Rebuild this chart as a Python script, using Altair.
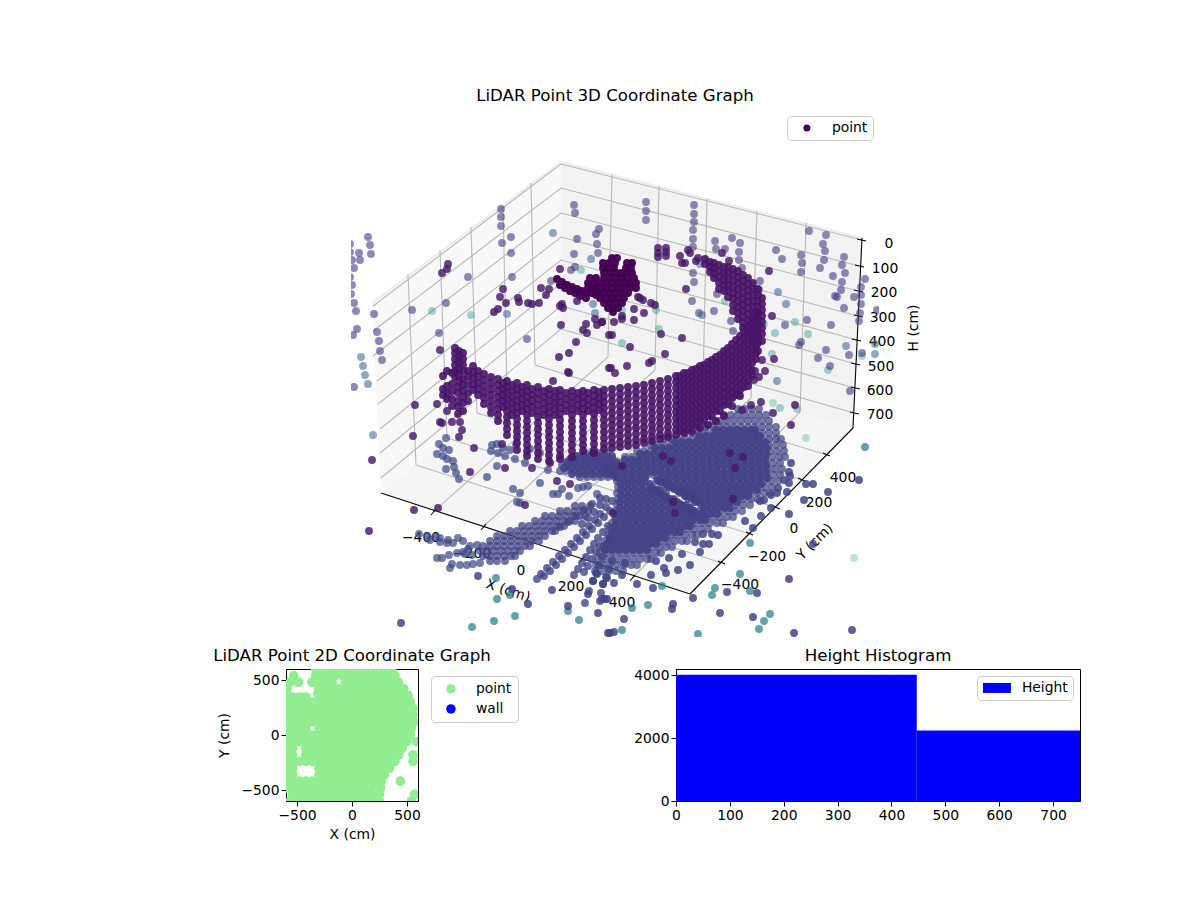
import altair as alt
import pandas as pd

FONT = "DejaVu Sans"

# ---------- projected 3D scatter (x, y in projected view units, c = colour value, a = alpha) ----------
back_purple = [(368,236),(370,244),(371,253),(350,243),(350,251),(359,252),(352,259),(360,259),(354,267),(350,276),(352,284),(351,293),(354,302),(356,310),(374,313),(357,328),(353,334),(377,331),(379,340),(380,350),(382,359),(354,386),
(501,208),(501,216),(501,225),(502,242),(511,236),(511,252),(468,276),(512,276),(412,309),(446,302),(439,332),(527,338),(574,204),(575,212),(599,228),(596,233),(577,238),(597,243),(598,252),(574,253),(575,266),(571,269),(551,280),
(646,201),(646,210),(646,219),(694,204),(694,213),(694,221),(693,229),(693,238),(693,246),(715,240),(716,248),(725,248),(732,237),(740,242),(739,251),(739,259),(742,267),(776,249),(782,258),(809,230),(826,234),(823,243),(825,250),(824,259),(801,254),(802,262),(801,271),(820,267),(844,256),(842,264),(845,272),(833,275),(842,281),(841,289),(865,278),(861,286),(854,296),(861,294),(861,303),(844,307),(837,296),(835,295),(860,312),(859,320),(877,309),(760,280),(759,289),(785,324),(807,319),(831,324),(801,341),(799,344),(826,349),(849,354),(818,357),(862,352),(830,365),(693,272),(694,281),(692,300),(699,312),(714,310),(717,293),(731,320),(733,330),(850,390),(739,394),(733,396),(748,385)]
dark_mid = [(448,263),(447,268),(442,272),(503,288),(500,296),(506,302),(518,297),(519,301),(498,308),(494,311),(440,349),(528,302),(532,303),(539,302),(541,287),(549,288),(546,294),(560,268),(577,300),(595,318),(602,321),(597,324),(586,323),(583,329),(587,332),(609,334),(576,341),(561,324),(562,303),(563,307),(560,305),(569,352),(559,356),(568,371),(569,372),(553,380),(609,367),
(722,252),(729,260),(769,270),(772,315),(774,358),(762,359),(755,370),(765,370),(759,376),(754,379),(686,288),(682,337),(665,353),(652,360),(649,362),(627,365),(611,367),(615,372),(630,346),(661,333),(612,334),(644,312),(634,308),(634,319),(622,315),(622,318),(614,321),(602,321),(638,296),(640,297),(643,299),(651,302),(655,304),
(658,247),(658,252),(658,256),(666,247),(666,251),(666,255),(680,255),(682,262),(688,249),(690,252),(696,260),(698,257),(685,262),
(415,404),(413,435),(372,459),(437,403),(447,410),(440,421),(442,422),(452,421),(460,421),(462,429),(459,436),(474,447),(470,471),(414,509),(438,507),(369,530),(525,504),(505,467),(557,480),(570,483),(532,467),(550,462),(502,443)]
bluish = [(553,232),(591,258),(507,313),(593,303),(595,312),(700,263),(702,314),(846,345),(875,343),(875,353),(777,380),(786,303),(778,291),(361,356),(363,365),(365,374),(368,383),(373,434)]
teal = [(432,310),(471,314),(581,269),(725,300),(795,321),(808,333),(775,332),(764,323),(828,369),(772,353),(659,328),(622,342),(656,309),(622,309),(780,407),(797,408),(862,355)]
pale = [(854,557),(806,437),(773,402)]
blue_floor = [(439,443),(443,447),(449,449),(437,453),(443,455),(447,458),(453,460),(446,468),(454,466),(456,472),(459,478),(487,476),(492,444),(491,450),(497,443),(503,447),(510,449),(516,444),(498,452),(505,455),(497,465),(513,488),(520,492),(517,501),(520,502),(540,482),(548,469),(553,493),(558,493),(562,488),(569,495),(578,487),(583,486),(588,485),(597,493),(446,437),(530,448),(540,452),(515,458),(525,462),(560,470),
(419,533),(427,535),(435,536),(440,537),(448,539),(458,537),(430,539),(440,541),(447,542),(453,542),(463,540),(470,545),(477,544),(468,548),(463,551),(437,557),(442,557),(449,554),(457,552),(465,553),(472,554),(450,567),(452,563),(460,564),(467,564),(473,563),(480,562)]
front_blue = [(401,622),(478,575),(552,589),(528,603),(597,573),(593,580),(588,593),(607,598),(598,612),(568,605),(512,588),(693,597),(727,591),(757,592),(720,612),(753,616),(789,578),(794,632),(852,629),(813,543),(859,479),(673,603),(672,608),(624,618),(610,632),(614,631),(608,632),
(791,462),(789,471),(790,475),(784,479),(789,482),(806,483),(813,483),(828,491),(804,499),(787,491),(778,487),(777,492),(771,494),(764,499),(760,500),(771,507),(789,513),(761,515),(753,527),(745,520),(712,533),(718,534),(703,533),(695,541),(703,543),(709,543),(700,551),(690,564),(682,553),(669,557),(678,569),(664,567),(666,572),(656,560),(651,574),(637,583),(653,587),(625,562),(622,574),(614,582),(607,577),(603,583),(602,598),(605,598)]
front_teal = [(865,446),(750,542),(712,594),(715,587),(740,573),(750,590),(770,613),(764,620),(759,628),(698,633),(662,585),(632,607),(648,604),(622,629),(568,610),(510,594),(497,598),(496,577),(515,615),(494,620),(472,626),(579,619)]
dark_over = [(748,385),(761,401),(751,404),(742,409),(773,412),(795,404),(791,424),(730,452),(743,456),(735,467),(733,498),(663,455),(671,460),(622,465),(673,501),(675,512),(613,512)]

fan_rows = [
(408,[738,745,752,759]),
(414,[724,731,738,745,752,759,766]),
(420,[713,720,727,734,741,748,755,762,769]),
(426,[699,706,713,720,727,734,741,748,755,762,769,776]),
(432,[685,692,699,706,713,720,727,734,741,748,755,762,769,776]),
(438,[664,671,678,685,692,699,706,713,720,727,734,741,748,755,762,769,776,781]),
(444,[650,657,664,671,678,685,692,699,706,713,720,727,734,741,748,755,762,769,776,783]),
(450,[637,644,651,658,665,672,679,686,693,700,707,714,721,728,735,742,749,756,763,770,777,784]),
(456,[625,632,639,646,653,660,667,674,681,688,695,702,709,716,723,730,737,744,751,758,765,772,779,785]),
(462,[612,619,626,633,640,647,654,661,668,675,682,689,696,703,710,717,724,731,738,745,752,759,766,773,780]),
(468,[607,614,621,628,635,642,649,656,663,670,677,684,691,698,705,712,719,726,733,740,747,754,761,768,775,782]),
(474,[612,619,626,633,640,647,654,661,668,675,682,689,696,703,710,717,724,731,738,745,752,759,766,773,780]),
(480,[617,624,631,638,645,659,666,673,680,687,694,701,708,715,722,729,736,743,750,757,764,771,778]),
(486,[618,625,632,639,646,653,667,674,681,688,695,702,709,716,723,730,737,744,751,758,765,772]),
(492,[617,624,631,638,645,652,659,666,680,687,694,701,708,715,722,729,736,743,750,757,764,770]),
(498,[618,625,632,639,646,653,660,667,674,688,695,702,709,716,723,730,737,744,751,758]),
(504,[617,624,631,638,645,652,659,666,673,680,687,701,708,715,722,729,736,743,750]),
(510,[616,623,630,637,644,651,658,665,672,679,686,693,700,707,714,721,728,735,742]),
(516,[615,622,629,636,643,650,657,664,671,678,685,692,699,706,713,720,727,733]),
(522,[612,619,626,633,640,647,654,661,668,675,682,689,696,703,710,717,723]),
(528,[610,617,624,631,638,645,652,659,666,673,680,687,694,701,708]),
(534,[608,615,622,629,636,643,650,657,664,671,678,685,692,697]),
(540,[605,612,619,626,633,640,647,654,661,668,675,682,687]),
(546,[603,610,617,624,631,638,645,652,659,666,672]),
(552,[600,607,614,621,628,635,642,649,656,661]),
(558,[598,605,612,619,626,633,640,647,651]),
(564,[596,603,610,617,624,631,637]),
(570,[595,602,609,616,623]),
(452,[585,592,600,607]),
(458,[570,577,584,591,598,605,612]),
(464,[562,569,576,583,590,597,604,611]),
(470,[566,573,580,587,594,601,608,615]),
(476,[580,587,594,601,608,615]),
]
fan_core_rows = [
(429,[716,723,730,737,744,751,755]),
(435,[699,706,713,720,727,734,741,748,755,760]),
(441,[675,682,689,696,703,710,717,724,731,738,745,752,759,765]),
(447,[655,662,669,676,683,690,697,704,711,718,725,732,739,746,753,760,767]),
(453,[640,647,654,661,668,675,682,689,696,703,710,717,724,731,738,745,752,759,766]),
(459,[625,632,639,646,653,660,667,674,681,688,695,702,709,716,723,730,737,744,751,758,765]),
(465,[612,619,626,633,640,647,654,661,668,675,682,689,696,703,710,717,724,731,738,745,752,759,766]),
(471,[612,619,626,633,640,647,654,661,668,675,682,689,696,703,710,717,724,731,738,745,752,759,766]),
(477,[618,625,632,639,645,662,669,676,683,690,697,704,711,718,725,732,739,746,753,760,767]),
(483,[621,628,635,642,650,670,677,684,691,698,705,712,719,726,733,740,747,754,761]),
(489,[621,628,635,642,649,656,660,680,687,694,701,708,715,722,729,736,743,750,757]),
(495,[621,628,635,642,649,656,663,685,692,699,706,713,720,727,734,741,748]),
(501,[620,627,634,641,648,655,662,669,675,695,702,709,716,723,730,737]),
(507,[620,627,634,641,648,655,662,669,676,683,690,704,711,718,725,730]),
(513,[619,626,633,640,647,654,661,668,675,682,689,696,703,710,717]),
(519,[616,623,630,637,644,651,658,665,672,679,686,693,700,705]),
(525,[615,622,629,636,643,650,657,664,671,678,685,690]),
(531,[612,619,626,633,640,647,654,661,668,675,680]),
(537,[610,617,624,631,638,645,652,659,665]),
(543,[607,614,621,628,635,642,649,656]),
(549,[605,612,619,626,633,640,647]),
(455,[577,584,591,598,605,612]),
(461,[567,574,581,588,595,602,609,616]),
(467,[564,571,578,585,592,599,606,613]),
(473,[572,579,586,593,600,607,614]),
]
slit_edge_points = [(657,479),(664,482),(671,486),(678,490),(685,493),(692,497),(699,501),(660,481),(667,484),(674,488),(681,491),(688,495),(695,499),
(652,488),(659,492),(666,496),(673,499),(680,503),(687,507),(694,510),(700,513),(656,490),(663,494),(670,498),(677,501),(684,505),(691,509)]
left_fan_rows = [
(505,[575,582,590]),
(510,[560,567,574,581,588]),
(515,[545,552,559,566,573,580,585]),
(520,[535,542,549,556,563,570,575]),
(525,[522,529,536,543,550,557,564]),
(530,[510,517,524,531,538,545,552,555]),
(535,[497,504,511,518,525,532,539,545]),
(540,[490,497,504,511,518,525,532,539]),
(545,[483,490,497,504,511,518,525,530]),
(550,[480,487,494,501,508,515,520]),
(555,[483,490,497,504,511,515]),
(560,[490,497,505]),
]
ray_points = [(612,500),(606,506),(600,513),(595,519),(589,525),(583,531),(577,537),(571,543),(565,549),(559,555),(553,561),(547,567),(541,573),(537,578),
(610,510),(604,516),(598,522),(592,528),(586,534),(580,540),(574,546),(568,552),(562,558),(556,564),(550,570),(544,575),
(606,498),(600,504),(594,511),(588,517),(582,523),
(608,525),(603,531),(598,537),(594,543),(590,549),(586,556),(582,562),(578,568),(574,574),
(600,545),(596,551),(592,558),(588,565),(584,571),
(610,540),(606,548),(602,556),(599,564),(596,572),(593,580),(589,590),(585,602),
(612,560),(609,568),(606,576),(603,583),(601,592),(600,600),
(600,497),(592,503),(584,509),(576,515),(568,521),(560,526)]

arc_cols = [
(455,[347,352,358,364,370,376]),(459,[350,356,362,368,374,380]),(463,[352,358,364,370,378,384,390,396,402,410]),(468,[370,376,384,392,400]),
(473,[365,371,377,383,389]),(447,[370,385,392,398]),(443,[375,388,394]),(452,[372,383,390,398,405]),(458,[386,392,400,406,413]),
(478,[370,376,382,388,394]),(484,[373,379,385,391,397,403]),(491,[376,382,388,394,400,406,412]),(498,[378,384,390,396,402,408,414,420]),
(503,[382,388,394,400,406]),(512,[384,390,396,402,408,414]),(522,[386,392,398,404,410]),(532,[388,394,400,406,412]),(544,[390,396,402,408,414]),
(555,[390,396,402,408,414]),(566,[392,398,404,410]),(578,[392,398,404,410]),(588,[392,398,404,410]),(599,[391,397,403,409]),
(507,[380,386,392,398,404,410,416,422,428,434]),
(517,[382,388,394,400,406,412,418,424,430,436,442,449]),
(527,[384,390,396,402,408,414,420,426,432,438,444,450,455]),
(538,[386,392,398,404,410,416,422,428,434,440,446,452,458]),
(549,[388,394,400,406,412,418,424,430,436,442,448,454,460]),
(560,[389,395,401,407,413,419,425,431,437,443,449,455,458]),
(572,[390,396,402,408,414,420,426,432,438,444,450,456]),
(583,[390,396,402,408,414,420,426,432,438,444,450]),
(594,[389,395,401,407,413,419,425,431,437,443,449,452]),
(604,[389,395,401,407,413,419,425,431,437,443,448]),
(612,[388,394,400,406,412,418,424,430,436,442,447]),
(620,[387,393,399,405,411,417,423,429,435,441,446]),
(628,[386,392,398,404,410,416,422,428,434,440,445]),
(636,[385,391,397,403,409,415,421,427,433,439,444]),
(644,[384,390,396,402,408,414,420,426,432,438,442]),
(652,[382,388,394,400,406,412,418,424,430,436,440]),
(660,[380,386,392,398,404,410,416,422,428,434,438]),
(668,[378,384,390,396,402,408,414,420,426,432,436]),
(676,[375,381,387,393,399,405,411,417,423,429,434]),
(684,[372,378,384,390,396,402,408,414,420,426,432]),
(692,[369,375,381,387,393,399,405,411,417,423,430]),
(700,[365,371,377,383,389,395,401,407,413,419,427]),
(708,[361,367,373,379,385,391,397,403,409,415,424]),
(716,[356,362,368,374,380,386,392,398,404,410,420]),
(724,[350,356,362,368,374,380,386,392,398,404,415]),
(732,[343,349,355,361,367,373,379,385,391,397,405]),
(740,[335,341,347,353,359,365,371,377,383,389,395]),
(748,[325,331,337,343,349,355,361,367,373,380]),
(756,[310,316,322,328,334,340,346,352,358]),
(680,[375,382,389,396,403,410,417,424,430]),
(688,[372,379,386,393,400,407,414,421,428]),
(696,[368,375,382,389,396,403,410,417,424]),
(704,[364,371,378,385,392,399,406,413,420]),
(712,[359,366,373,380,387,394,401,408,415]),
(720,[354,361,368,375,382,389,396,403,410]),
(728,[347,354,361,368,375,382,389,396,403]),
(736,[339,346,353,360,367,374,381,388,394]),
(744,[330,337,344,351,358,365,372,379,386]),
(752,[320,327,334,341,348,355,362,369,375]),
(705,[258,263]),(710,[261,266,271]),(714,[262,267,272,277]),(719,[264,270,276,282,288]),(724,[266,272,278,284,290]),
(728,[266,272,278,284,290,296]),(733,[268,274,280,286,292,298,304,310]),(738,[270,276,282,288,294,300,306,312,318]),
(743,[274,280,286,292,298,304,310,316,322,327]),(748,[277,283,289,295,301,307,313,319,325,331]),
(753,[282,288,294,300,306,312,318,324,330,336,340]),(758,[288,294,300,306,312,318,324,330,336,342,350]),
(762,[297,303,309,315,321,327,333,340]),
]
tuft_rows = [
(257,[612,617]),(262,[603,609,615,627,632]),(267,[603,608,614,626,631]),(272,[604,610,616,621,627,632]),
(277,[590,596,604,610,616,622,628,634]),(282,[588,594,600,606,612,618,624,630,636]),
(287,[588,594,600,606,612,618,624,630,636]),(292,[592,598,604,610,616,622,628]),
(297,[600,606,612,618,624]),(302,[604,610,616,622]),(307,[608,613,618]),(311,[613]),
]
tuft_arm = [(557,278),(562,281),(567,284),(572,286),(577,288),(582,290),(587,292),(560,284),(565,287),(570,290),(575,292),(580,295),(586,297),(592,288),(596,294)]

rows3d = []
def add_pairs(pairs, c, a):
    for px, py in pairs:
        rows3d.append({"px": px, "py": py, "c": c, "a": a})
def add_rows(rws, c, a):
    for py, xs in rws:
        add_pairs([(px, py) for px in xs], c, a)
def add_cols(cols, c, a):
    for px, ys in cols:
        add_pairs([(px, py) for py in ys], c, a)

add_pairs(pale, 0.66, 0.35)
add_pairs(teal, 0.5, 0.4)
add_pairs(back_purple, 0.17, 0.6)
add_pairs(bluish, 0.3, 0.55)
add_pairs(blue_floor, 0.22, 0.72)
add_pairs(front_teal, 0.42, 0.72)
add_rows(left_fan_rows, 0.2, 0.75)
add_pairs(ray_points, 0.2, 0.8)
add_rows(fan_rows, 0.2, 0.72)
add_rows(fan_core_rows, 0.19, 0.9)
add_pairs(slit_edge_points, 0.19, 0.9)
add_pairs(front_blue, 0.2, 0.85)
add_cols(arc_cols, 0.05, 0.9)
add_rows(tuft_rows, 0.0, 0.97)
add_pairs(tuft_arm, 0.0, 0.97)
add_pairs(dark_mid, 0.06, 0.82)
add_pairs(dark_over, 0.06, 0.82)
df3d = pd.DataFrame(rows3d)

# ---------- 3D frame ----------
pane_left = [(372,302,302),(381,295,492),(561,161,342)]
pane_right = [(561,161,342),(853,235,427),(862,237,237)]
pane_floor = [(381,492,492),(561,342,551),(690,380,593),(853,427,427)]
grid_segments = [
 # floor lines
 [(433,511),(608,356)],[(483,526),(655,369)],[(532,541),(703,383)],[(582,558),(751,397)],[(632,577),(800,411)],
 [(722,562),(416,464)],[(750,533),(447,437)],[(777,507),(477,412)],[(802,479),(507,387)],[(827,454),(535,364)],
 # wall verticals
 [(612,173),(608,356)],[(659,185),(655,369)],[(707,198),(703,383)],[(757,210),(751,397)],[(806,222),(800,411)],
 [(408,273),(416,464)],[(440,249),(447,437)],[(471,226),(477,412)],[(503,205),(507,387)],[(531,182),(535,364)],
 # height lines
 [(373,305),(561,163),(862,239)],[(373,330),(561,187),(859,265)],[(373,355),(561,212),(858,290)],[(377,380),(561,236),(858,315)],
 [(378,403),(561,259),(857,339)],[(380,428),(561,282),(856,363)],[(380,452),(561,305),(855,387)],[(381,477),(561,328),(854,412)],
]
edge_segments = [[(372,302),(561,161),(862,237)]]
axis_segments = [
 [(381,492),(690,593)],[(690,593),(853,427)],[(853,427),(862,237)],
 [(431,514),(436,508)],[(481,529),(486,523)],[(530,544),(535,538)],[(580,561),(585,555)],[(630,580),(635,574)],
 [(725,563),(718,560)],[(753,534),(746,531)],[(780,508),(773,505)],[(805,480),(798,477)],[(830,455),(823,452)],
 [(857,238),(866,240)],[(855,264),(864,266)],[(854,289),(863,291)],[(854,314),(863,316)],[(852,338),(861,340)],[(851,362),(860,364)],[(851,386),(860,388)],[(850,411),(859,413)],
]
text3d = [
 ("LiDAR Point 3D Coordinate Graph",615,95,0,16.67),
 ("\u2212400",421,537,0,13.89),("\u2212200",472,553,0,13.89),("0",521,570,0,13.89),("200",571,586,0,13.89),("400",622,602,0,13.89),
 ("\u2212400",740,584,0,13.89),("\u2212200",767,556,0,13.89),("0",794,528,0,13.89),("200",819,502,0,13.89),("400",843,477,0,13.89),
 ("0",889,243,0,13.89),("100",885,268,0,13.89),("200",884,292,0,13.89),("300",883,317,0,13.89),("400",882,341,0,13.89),("500",881,366,0,13.89),("600",880,390,0,13.89),("700",880,414,0,13.89),
 ("H (cm)",914,327,270,13.89),("X (cm)",508,590,18,13.89),("Y (cm)",815,541,315,13.89),
]

PX = alt.Scale(domain=[351,879], nice=False, zero=False)
PY = alt.Scale(domain=[636,80], nice=False, zero=False)
def xe(f): return alt.X(f, type="quantitative", scale=PX, axis=None)
def ye(f): return alt.Y(f, type="quantitative", scale=PY, axis=None)

def pane(poly, color):
    d = pd.DataFrame(poly, columns=["px","t","b"])
    return alt.Chart(d).mark_area(color=color, line=False, clip=True).encode(x=xe("px"), y=ye("t"), y2="b")
def lines(segs, color, width):
    recs = []
    for i, s in enumerate(segs):
        for j, (px, py) in enumerate(s):
            recs.append({"px": px, "py": py, "i": i, "o": j})
    return alt.Chart(pd.DataFrame(recs)).mark_line(color=color, strokeWidth=width).encode(
        x=xe("px"), y=ye("py"), detail="i:N", order="o:Q")

labels3d = alt.Chart(pd.DataFrame(text3d, columns=["t","px","py","ang","fs"])).mark_text(
    font=FONT, color="black", align="center", baseline="middle").encode(
    x=xe("px"), y=ye("py"), text="t:N",
    angle=alt.Angle("ang:Q", scale=None), size=alt.Size("fs:Q", scale=None, legend=None))
pts3d = alt.Chart(df3d).mark_circle(size=62, clip=True).encode(
    x=xe("px"), y=ye("py"),
    color=alt.Color("c:Q", scale=alt.Scale(scheme="viridis", domain=[0,1]), legend=None),
    opacity=alt.Opacity("a:Q", scale=None, legend=None))
legend3d = alt.Chart(pd.DataFrame({"s":["point"],"px":[700],"py":[420]})).mark_circle(size=1).encode(
    x=xe("px"), y=ye("py"),
    color=alt.Color("s:N", scale=alt.Scale(domain=["point"], range=["#440154"]),
        legend=alt.Legend(title=None, orient="none", legendX=436, legendY=35, symbolSize=50, symbolOpacity=1,
            padding=5, strokeColor="#cccccc", cornerRadius=4, fillColor="white", labelFontSize=13.89, labelFont=FONT,
            labelColor="black", labelOffset=18, symbolOffset=8, symbolStrokeWidth=0)))
top = alt.layer(
    pane(pane_left, "#f8f8f8"), pane(pane_right, "#f2f2f2"), pane(pane_floor, "#f5f5f5"),
    lines(edge_segments, "#ececec", 2), lines(grid_segments, "#b8b8b8", 1.1), lines(axis_segments, "black", 1.1),
    labels3d, pts3d, legend3d
).resolve_scale(color="independent").properties(width=528, height=556)

spacer = alt.Chart(pd.DataFrame({"a":[0]})).mark_point(opacity=0).encode(
    x=alt.X("a:Q", axis=None), y=alt.Y("a:Q", axis=None)).properties(width=63, height=10)

# ---------- 2D scatter ----------
xy_rows = [
(600,[-330,-270,-210,-150,-90,-30,30,90,150,210,270,330,360]),
(540,[-530,-330,-270,-210,-150,-90,-30,30,90,150,210,270,330,390]),
(480,[-560,-485,-363,-300,-240,-180,-60,0,60,120,180,240,300,360,420]),
(420,[-590,-300,-240,-180,-120,-60,0,60,120,180,240,300,360,420,470]),
(380,[-311,-595]),
(345,[-600,-540,-480,-420]),
(360,[-600,-300,-240,-180,-120,-60,0,60,120,180,240,300,360,420,480,510]),
(300,[-600,-540,-480,-420,-360,-300,-240,-180,-120,-60,0,60,120,180,240,300,360,420,480,530]),
(240,[-600,-540,-480,-420,-360,-300,-240,-180,-120,-60,0,60,120,180,240,300,360,420,480,540,555]),
(180,[-600,-540,-480,-420,-360,-300,-240,-180,-120,-60,0,60,120,180,240,300,360,420,480,540,555]),
(120,[-600,-540,-480,-420,-360,-300,-240,-180,-120,-60,0,60,120,180,240,300,360,420,480,540,560]),
(60,[-600,-540,-480,-420,-300,-240,-180,-120,-60,0,60,120,180,240,300,360,420,480,540]),
(0,[-600,-540,-480,-420,-360,-300,-240,-180,-120,-60,0,60,120,180,240,300,360,420,480,530]),
(-60,[-600,-540,-480,-420,-360,-300,-240,-180,-120,-60,0,60,120,180,240,300,360,420,480,500,586]),
(-120,[-600,-540,-420,-360,-300,-240,-180,-120,-60,0,60,120,180,240,300,360,420,455]),
(-180,[-600,-540,-420,-360,-300,-240,-180,-120,-60,0,60,120,180,240,300,360,425,555]),
(-240,[-600,-540,-480,-420,-360,-300,-240,-180,-120,-60,0,60,120,180,240,300,360,390,555]),
(-300,[-600,-540,-300,-240,-180,-120,-60,0,60,120,180,240,300,343]),
(-360,[-600,-540,-300,-240,-180,-120,-60,0,60,120,180,240,297]),
(-420,[-600,-540,-480,-420,-360,-300,-240,-180,-120,-60,0,60,120,180,240,266,440]),
(-480,[-600,-540,-480,-420,-360,-300,-240,-180,-120,-60,0,60,120,180,260]),
(-540,[-540,-480,-420,-360,-300,-240,-180,-120,-60,0,60,120,180,250,570]),
(-600,[-560,-510,-450,-390,-330,-270,-210,-150,-90,-30,30,90,150,210,250,540]),
]
df2 = pd.DataFrame([{"X":x,"Y":y,"s":"point"} for y,xs in xy_rows for x in xs])
left = alt.Chart(df2).mark_circle(size=95, opacity=1, clip=True).encode(
    x=alt.X("X:Q", title="X (cm)", scale=alt.Scale(domain=[-600,600], nice=False),
            axis=alt.Axis(values=[-500,0,500], grid=False, titlePadding=6)),
    y=alt.Y("Y:Q", title="Y (cm)", scale=alt.Scale(domain=[-600,600], nice=False),
            axis=alt.Axis(values=[-500,0,500], grid=False, titlePadding=9)),
    color=alt.Color("s:N", scale=alt.Scale(domain=["point","wall"], range=["lightgreen","blue"]),
        legend=alt.Legend(title=None, orient="none", legendX=145, legendY=7, symbolSize=90, symbolOpacity=1, padding=6,
            strokeColor="#cccccc", cornerRadius=4, fillColor="white", labelFontSize=13.89, labelFont=FONT,
            labelColor="black", rowPadding=5, labelOffset=18, symbolOffset=7)),
).properties(width=132, height=132,
    title=alt.TitleParams("LiDAR Point 2D Coordinate Graph", font=FONT, fontSize=16.67, fontWeight="normal", color="black", offset=4),
    view=alt.ViewConfig(stroke="black", strokeWidth=1))

# ---------- histogram ----------
bin_start = [0, 447]
bin_end = [447, 750]
counts = [4020, 2240]
dfh = pd.DataFrame({"a":bin_start,"b":bin_end,"n":counts,"s":["Height","Height"]})
right = alt.Chart(dfh).mark_rect().encode(
    x=alt.X("a:Q", title=None, scale=alt.Scale(domain=[0,750], nice=False),
            axis=alt.Axis(values=[0,100,200,300,400,500,600,700], grid=False)),
    x2="b:Q",
    y=alt.Y("n:Q", title=None, scale=alt.Scale(domain=[0,4200], nice=False),
            axis=alt.Axis(values=[0,2000,4000], grid=False, format="d")),
    y2=alt.Y2(datum=0),
    color=alt.Color("s:N", scale=alt.Scale(domain=["Height"], range=["blue"]),
        legend=alt.Legend(title=None, orient="none", legendX=301, legendY=7, symbolType="M-2.8,-1H2.8V1H-2.8Z",
            symbolSize=100, symbolOffset=8, padding=5, strokeColor="#cccccc", cornerRadius=4, fillColor="white", labelFontSize=13.89,
            labelFont=FONT, labelColor="black", labelOffset=18, symbolStrokeWidth=0)),
).properties(width=404, height=132,
    title=alt.TitleParams("Height Histogram", font=FONT, fontSize=16.67, fontWeight="normal", color="black", offset=4),
    view=alt.ViewConfig(stroke="black", strokeWidth=1))

bottom = alt.hconcat(left, right, spacing=114).resolve_scale(color="independent")
row1 = alt.hconcat(spacer, top, spacing=0).resolve_legend(color="independent")
chart = alt.vconcat(row1, bottom, spacing=9).resolve_scale(color="independent").properties(
    padding={"left":204,"top":72,"right":0,"bottom":0}, background="white"
).configure_view(stroke="transparent").configure_axis(
    labelFont=FONT, titleFont=FONT, labelFontSize=13.89, titleFontSize=13.89, titleFontWeight="normal",
    labelColor="black", titleColor="black", tickColor="black", domainColor="black", tickSize=5, labelOverlap=False, labelFlush=False
)
chart.save("out.html", embed_options={"renderer": "svg", "actions": False})
